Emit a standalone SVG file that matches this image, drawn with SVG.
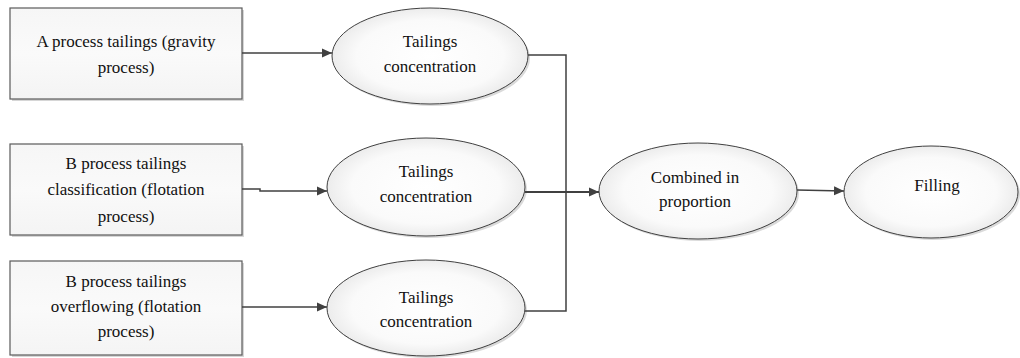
<svg xmlns="http://www.w3.org/2000/svg" width="1020" height="358" viewBox="0 0 1020 358">
<defs>
<radialGradient id="eg" cx="50%" cy="50%" r="50%">
<stop offset="0" stop-color="#ffffff"/>
<stop offset="0.75" stop-color="#fafafa"/>
<stop offset="1" stop-color="#ececec"/>
</radialGradient>
<linearGradient id="bg" x1="0" y1="0" x2="0" y2="1">
<stop offset="0" stop-color="#f6f6f6"/>
<stop offset="0.5" stop-color="#fafafa"/>
<stop offset="1" stop-color="#f4f4f4"/>
</linearGradient>
<marker id="arr" viewBox="0 0 10 10" refX="10" refY="5" markerWidth="10" markerHeight="10" markerUnits="userSpaceOnUse" orient="auto">
<path d="M0,0.5 L10,5 L0,9.5 Z" fill="#404040"/>
</marker>
</defs>
<style>
.box{fill:url(#bg);stroke:#5a5a5a;stroke-width:1.2}
.shb{fill:#d6d6d6}
.ell{fill:url(#eg);stroke:#404040;stroke-width:1}
.she{fill:#dadada}
text{font-family:'Liberation Serif',Tinos,'Times New Roman',Times,'Nimbus Roman','Nimbus Roman No9 L','Noto Serif','DejaVu Serif',serif;font-size:17px;fill:#111;text-anchor:middle}
.c{fill:none;stroke:#404040;stroke-width:1.5}
</style>
<g id="boxA">
<rect class="shb" x="12" y="10" width="232" height="91"/>
<rect class="box" x="10" y="8" width="232" height="91"/>
<text x="126" y="47">A process tailings (gravity</text>
<text x="126" y="73">process)</text>
</g>
<g id="boxB1">
<rect class="shb" x="12" y="146" width="232" height="91"/>
<rect class="box" x="10" y="144" width="232" height="91"/>
<text x="126" y="169">B process tailings</text>
<text x="126" y="195">classification (flotation</text>
<text x="126" y="222">process)</text>
</g>
<g id="boxB2">
<rect class="shb" x="12" y="263" width="232" height="94"/>
<rect class="box" x="10" y="261" width="232" height="94"/>
<text x="126" y="287">B process tailings</text>
<text x="126" y="312">overflowing (flotation</text>
<text x="126" y="337">process)</text>
</g>
<g id="conc1">
<ellipse class="she" cx="432" cy="58" rx="98" ry="48"/>
<ellipse class="ell" cx="430" cy="56" rx="98" ry="48"/>
<text x="430" y="47">Tailings</text>
<text x="430" y="72">concentration</text>
</g>
<g id="conc2">
<ellipse class="she" cx="428" cy="189" rx="99" ry="49"/>
<ellipse class="ell" cx="426" cy="187" rx="99" ry="49"/>
<text x="426" y="177">Tailings</text>
<text x="426" y="202">concentration</text>
</g>
<g id="conc3">
<ellipse class="she" cx="428" cy="310" rx="99" ry="48"/>
<ellipse class="ell" cx="426" cy="308" rx="99" ry="48"/>
<text x="426" y="303">Tailings</text>
<text x="426" y="327">concentration</text>
</g>
<g id="combined">
<ellipse class="she" cx="700" cy="193" rx="99" ry="48"/>
<ellipse class="ell" cx="698" cy="191" rx="99" ry="48"/>
<text x="695" y="183">Combined in</text>
<text x="695" y="207">proportion</text>
</g>
<g id="filling">
<ellipse class="she" cx="933" cy="194" rx="87" ry="46"/>
<ellipse class="ell" cx="931" cy="192" rx="87" ry="46"/>
<text x="937" y="191">Filling</text>
</g>
<g id="connectors">
<path class="c" d="M242,53 L332,53" marker-end="url(#arr)"/>
<path class="c" d="M242,189 L260,189 L260,191 L327,191" marker-end="url(#arr)"/>
<path class="c" d="M242,307 L327,307" marker-end="url(#arr)"/>
<path class="c" d="M528,55 L566,55 L566,311 L525,311"/>
<path class="c" d="M525,192 L599,192" marker-end="url(#arr)" style="stroke-width:2"/>
<path class="c" d="M797,190 L844,191" marker-end="url(#arr)"/>
</g>
</svg>
